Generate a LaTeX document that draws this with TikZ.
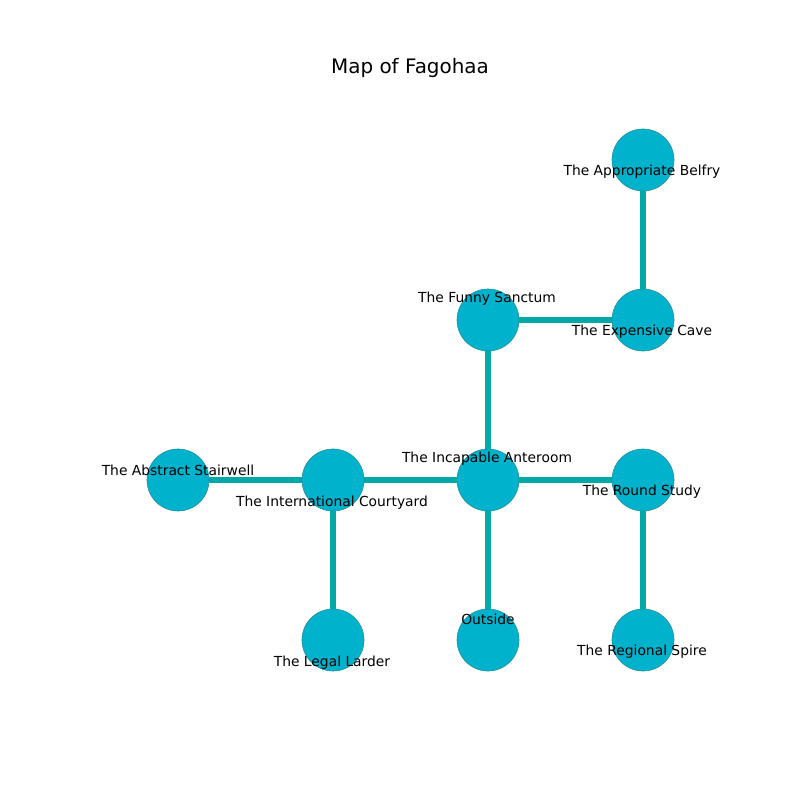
\documentclass[tikz,border=0pt]{standalone}
\usepackage{fontspec}
\setmainfont{DejaVu Sans}
\definecolor{nodefill}{HTML}{00B2CC}
\definecolor{edgecol}{HTML}{00A8A8}
\definecolor{nodeedge}{HTML}{1E8C9A}
\begin{document}
\begin{tikzpicture}[x=0.01in,y=-0.01in,
  place/.style={circle,fill=nodefill,draw=nodeedge,line width=0.4pt,minimum size=0.62in,inner sep=0pt},
  lbl/.style={font=\fontsize{10}{12}\selectfont,inner sep=0pt,anchor=center},
  link/.style={edgecol,line width=3.8pt}]
\useasboundingbox (0,0) rectangle (800,800);
\node[font=\fontsize{14.4}{17}\selectfont] (title) at (410,68) {Map of Fagohaa};
\node[place] (belfry) at (643,160) {};
\node[place] (cave) at (643,320) {};
\node[place] (funny) at (488,320) {};
\node[place] (ante) at (488,480) {};
\node[place] (round) at (643,480) {};
\node[place] (spire) at (643,640) {};
\node[place] (outside) at (488,640) {};
\node[place] (court) at (333,480) {};
\node[place] (larder) at (333,640) {};
\node[place] (stair) at (178,480) {};
\draw[link] (belfry) -- (cave);
\draw[link] (cave) -- (funny);
\draw[link] (funny) -- (ante);
\draw[link] (ante) -- (round);
\draw[link] (round) -- (spire);
\draw[link] (ante) -- (outside);
\draw[link] (ante) -- (court);
\draw[link] (court) -- (larder);
\draw[link] (court) -- (stair);
\node[lbl] (lbelfry) at (642,172) {The Appropriate Belfry};
\node[lbl] (lcave) at (642,332) {The Expensive Cave};
\node[lbl] (lfunny) at (487,299) {The Funny Sanctum};
\node[lbl] (lante) at (487,459) {The Incapable Anteroom};
\node[lbl] (lround) at (642,492) {The Round Study};
\node[lbl] (lspire) at (642,652) {The Regional Spire};
\node[lbl] (loutside) at (488,619) {Outside};
\node[lbl] (lcourt) at (332,503) {The International Courtyard};
\node[lbl] (llarder) at (332,663) {The Legal Larder};
\node[lbl] (lstair) at (178,470) {The Abstract Stairwell};
\end{tikzpicture}
\end{document}
